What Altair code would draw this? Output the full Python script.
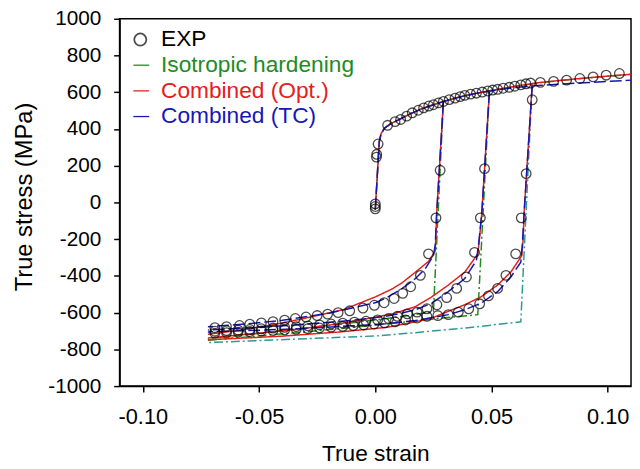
import altair as alt
import pandas as pd

# ---------------- Experimental data (open circles) ----------------
exp_load_strain = [0.0, 0.0, 0.0, 0.0005, 0.0006, 0.0012, 0.0053, 0.0085, 0.0109, 0.0135, 0.0159, 0.0185,
                   0.0208, 0.023, 0.025, 0.0272, 0.0293, 0.0318, 0.0343, 0.0365, 0.0385, 0.041, 0.0435,
                   0.046, 0.0484, 0.0505, 0.0526, 0.055, 0.0576, 0.06, 0.0626, 0.0648, 0.0668, 0.071,
                   0.0767, 0.0823, 0.088, 0.0937, 0.0993, 0.105]
exp_load_stress = [-35, -22, -8, 247, 262, 318, 420, 440, 452, 470, 488, 502,
                   515, 525, 532, 542, 550, 560, 568, 576, 583, 590, 595,
                   601, 607, 612, 616, 622, 627, 633, 640, 646, 650, 654,
                   659, 666, 675, 684, 693, 702]

exp_c1_strain = [0.0279, 0.0261, 0.0229, 0.0194, 0.0152, 0.0118, 0.0081, 0.0038, -0.0004, -0.0053, -0.011,
                 -0.016, -0.0205, -0.025, -0.0298, -0.0344, -0.039, -0.044, -0.049, -0.054, -0.0584,
                 -0.064, -0.069]
exp_c1_stress = [175, -84, -280, -397, -459, -495, -523, -546, -560, -575, -590,
                 -600, -608, -616, -624, -632, -641, -649, -656, -663, -670,
                 -676, -682]

exp_c2_strain = [0.047, 0.0452, 0.0427, 0.0392, 0.035, 0.0307, 0.0265, 0.0222, 0.018, 0.0138, 0.0095,
                 0.0057, 0.001, -0.004, -0.009, -0.014, -0.019, -0.024, -0.029, -0.034, -0.039, -0.044,
                 -0.049, -0.054, -0.059, -0.064, -0.069]
exp_c2_stress = [184, -84, -272, -406, -468, -518, -557, -579, -597, -607, -620,
                 -632, -640, -647, -652, -657, -662, -667, -672, -676, -680, -684,
                 -688, -692, -695, -698, -701]

exp_c3_strain = [0.0675, 0.0649, 0.0628, 0.0604, 0.0562, 0.0526, 0.0487, 0.0449, 0.0402, 0.0357, 0.0314,
                 0.0269, 0.0222, 0.018, 0.013, 0.0085, 0.004, -0.0005, -0.005, -0.0095, -0.014,
                 -0.019, -0.024, -0.029, -0.034, -0.039, -0.044, -0.049, -0.054, -0.059, -0.064, -0.069]
exp_c3_stress = [559, 157, -84, -280, -397, -468, -509, -552, -579, -597, -611,
                 -616, -620, -629, -640, -650, -656, -662, -667, -671, -675,
                 -679, -683, -687, -691, -694, -697, -700, -703, -706, -709, -712]

# ---------------- Model curves ----------------
mono_strain = [0.0, 0.0017, 0.0025, 0.004, 0.0065, 0.01, 0.015, 0.02, 0.025, 0.03, 0.035, 0.04, 0.045,
               0.05, 0.055, 0.06, 0.065, 0.07, 0.08, 0.09, 0.1, 0.11]
opt_mono_stress = [-40, 330, 375, 405, 428, 450, 482, 510, 532, 552, 570, 585, 598,
                   610, 621, 632, 642, 652, 665, 677, 688, 698]
iso_mono_stress = [-40, 330, 375, 405, 428, 450, 482, 510, 532, 552, 570, 585, 598,
                   610, 621, 632, 642, 651, 664, 676, 687, 697]
tc_mono_stress = [-40, 330, 375, 405, 428, 450, 482, 510, 532, 552, 570, 585, 598,
                  608, 617, 625, 631, 637, 645, 652, 659, 666]

opt_c1_strain = [0.0293, 0.0264, 0.026, 0.0258, 0.023, 0.0173, 0.0116, 0.0074, 0.0003, -0.0138,
                 -0.03, -0.0422, -0.058, -0.072]
opt_c1_stress = [549, -60, -200, -263, -320, -379, -437, -470, -513, -584,
                 -630, -662, -695, -718]
opt_c2_strain = [0.0491, 0.0458, 0.0448, 0.0441, 0.0385, 0.0314, 0.0244, 0.0173, 0.008, 0.0,
                 -0.015, -0.03, -0.05, -0.072]
opt_c2_stress = [608, -60, -200, -280, -379, -450, -513, -567, -605, -625,
                 -660, -685, -712, -738]
opt_c3_strain = [0.0675, 0.064, 0.0636, 0.063, 0.0583, 0.0526, 0.0456, 0.0385, 0.0314, 0.0244, 0.0173,
                 0.005, -0.015, -0.04, -0.072]
opt_c3_stress = [647, -60, -200, -290, -379, -450, -513, -557, -593, -629, -650,
                 -680, -705, -728, -748]

tc_c1_strain = [0.0293, 0.0264, 0.0258, 0.025, 0.0215, 0.0173, 0.0116, 0.0045, 0.0003, -0.01, -0.02,
                -0.04, -0.056, -0.072]
tc_c1_stress = [549, -60, -230, -290, -361, -414, -468, -521, -545, -575, -603,
                -642, -662, -677]
tc_c2_strain = [0.0491, 0.0458, 0.0445, 0.0435, 0.0385, 0.0314, 0.0244, 0.0173, 0.0116, 0.0045, -0.01,
                -0.03, -0.05, -0.072]
tc_c2_stress = [606, -60, -220, -316, -414, -486, -548, -584, -602, -620, -642,
                -663, -680, -695]
tc_c3_strain = [0.0675, 0.064, 0.0633, 0.0626, 0.0583, 0.0526, 0.0456, 0.0385, 0.0314, 0.0173, 0.0045,
                -0.01, -0.03, -0.05, -0.072]
tc_c3_stress = [634, -60, -220, -325, -406, -486, -548, -584, -611, -643, -660,
                -672, -686, -696, -705]

iso_c1_strain = [0.0293, 0.025, 0.015, 0.0, -0.02, -0.045, -0.072]
iso_c1_stress = [549, -593, -615, -640, -670, -705, -742]
iso_c2_strain = [0.0491, 0.0441, 0.03, 0.015, 0.0, -0.03, -0.072]
iso_c2_stress = [608, -611, -628, -648, -668, -705, -750]
iso_c3_strain = [0.0675, 0.0626, 0.04, 0.0173, 0.0003, -0.028, -0.072]
iso_c3_stress = [647, -650, -682, -709, -727, -741, -763]

# axis ticks
x_ticks = [-0.1, -0.05, 0.0, 0.05, 0.1]
y_ticks = [-1000, -800, -600, -400, -200, 0, 200, 400, 600, 800, 1000]

# ---------------- Build tables ----------------
exp_df = pd.DataFrame({
    "strain": exp_load_strain + exp_c1_strain + exp_c2_strain + exp_c3_strain,
    "stress": exp_load_stress + exp_c1_stress + exp_c2_stress + exp_c3_stress,
})

rows = []
def add(series, group, xs, ys):
    for i, (a, b) in enumerate(zip(xs, ys)):
        rows.append({"series": series, "group": group, "i": i, "strain": a, "stress": b})

add("iso", "iso_m", mono_strain, iso_mono_stress)
add("iso", "iso_1", iso_c1_strain, iso_c1_stress)
add("iso", "iso_2", iso_c2_strain, iso_c2_stress)
add("iso3", "iso_3", iso_c3_strain, iso_c3_stress)
add("opt", "opt_m", mono_strain, opt_mono_stress)
add("opt", "opt_1", opt_c1_strain, opt_c1_stress)
add("opt", "opt_2", opt_c2_strain, opt_c2_stress)
add("opt", "opt_3", opt_c3_strain, opt_c3_stress)
add("tc", "tc_m", mono_strain, tc_mono_stress)
add("tc", "tc_1", tc_c1_strain, tc_c1_stress)
add("tc", "tc_2", tc_c2_strain, tc_c2_stress)
add("tc", "tc_3", tc_c3_strain, tc_c3_stress)
lines_df = pd.DataFrame(rows)

GREEN = "#228B22"
TEAL = "#2E9A94"
RED = "#E3201B"
BLUE = "#1717B8"
FONT = "Liberation Sans"

xs = alt.Scale(domain=[-0.11, 0.11], nice=False, zero=False)
ys = alt.Scale(domain=[-1000, 1000], nice=False, zero=False)

x_axis = alt.Axis(
    values=x_ticks, tickCount=5,
    labelExpr="datum.value < 0 ? '-' + format(-datum.value, '.2f') : format(datum.value, '.2f')",
    title="True strain", titleY=75, titleX=259, titleAlign="center", titleBaseline="alphabetic",
    labelPadding=15, labelFlush=False, labelOverlap=False,
)
y_axis = alt.Axis(
    values=y_ticks, tickCount=11,
    labelExpr="datum.value < 0 ? '-' + format(-datum.value, 'd') : format(datum.value, 'd')",
    title="True stress (MPa)", titleX=-89, titleY=180, titleAngle=270, titleAlign="center",
    titleBaseline="alphabetic", titleFontSize=24, labelPadding=13, labelFlush=False, labelOverlap=False,
    labelFontSize=21,
)

lines = alt.Chart(lines_df).mark_line(strokeWidth=1.5, clip=True).encode(
    x=alt.X("strain:Q", scale=xs, axis=x_axis),
    y=alt.Y("stress:Q", scale=ys, axis=y_axis),
    color=alt.Color("series:N", scale=alt.Scale(domain=["iso", "iso3", "opt", "tc"],
                                                range=[GREEN, TEAL, RED, BLUE]), legend=None),
    strokeDash=alt.StrokeDash("series:N", scale=alt.Scale(domain=["iso", "iso3", "opt", "tc"],
                                                          range=[[9, 3, 2, 3], [9, 3, 2, 3], [1, 0], [12, 4]]),
                              legend=None),
    detail="group:N",
    order="i:Q",
)

points = alt.Chart(exp_df).mark_point(shape="circle", filled=False, size=95, strokeWidth=1.3,
                                      color="black").encode(
    x=alt.X("strain:Q", scale=xs, axis=x_axis),
    y=alt.Y("stress:Q", scale=ys, axis=y_axis),
)

# ---------------- Legend (manual, inside plot) ----------------
one = pd.DataFrame({"k": [0]})
leg_labels = ["EXP", "Isotropic hardening", "Combined (Opt.)", "Combined (TC)"]
leg_colors = ["black", GREEN, RED, BLUE]
leg_y = [21, 47, 73, 99]
legend_layers = []
legend_layers.append(
    alt.Chart(one).mark_point(shape="circle", filled=False, size=150, strokeWidth=1.8, color="black").encode(
        x=alt.value(21), y=alt.value(leg_y[0]))
)
for lab, col, yy in zip(leg_labels, leg_colors, leg_y):
    legend_layers.append(
        alt.Chart(pd.DataFrame({"t": [lab]})).mark_text(
            align="left", baseline="middle", fontSize=23, font=FONT, color=col).encode(
            x=alt.value(42), y=alt.value(yy), text="t:N")
    )
for col, yy in zip(leg_colors[1:], leg_y[1:]):
    legend_layers.append(
        alt.Chart(one).mark_rule(color=col, strokeWidth=1.3).encode(
            x=alt.value(14), x2=alt.value(30), y=alt.value(yy))
    )

chart = alt.layer(lines, points, *legend_layers).properties(
    width=518, height=372,
    padding={"left": 113, "top": 8, "right": 1, "bottom": 78},
    autosize=alt.AutoSizeParams(type="none"),
).configure_view(
    stroke="black", strokeWidth=1.5
).configure_axis(
    grid=False, domainColor="black", domainWidth=1.5, tickColor="black", tickWidth=1.5, tickSize=6,
    labelFont=FONT, labelFontSize=22, labelColor="black", labelOverlap=False,
    titleFont=FONT, titleFontSize=23, titleFontWeight="normal", titleColor="black",
)

chart.save("out.html", embed_options={"renderer": "svg", "actions": False})
